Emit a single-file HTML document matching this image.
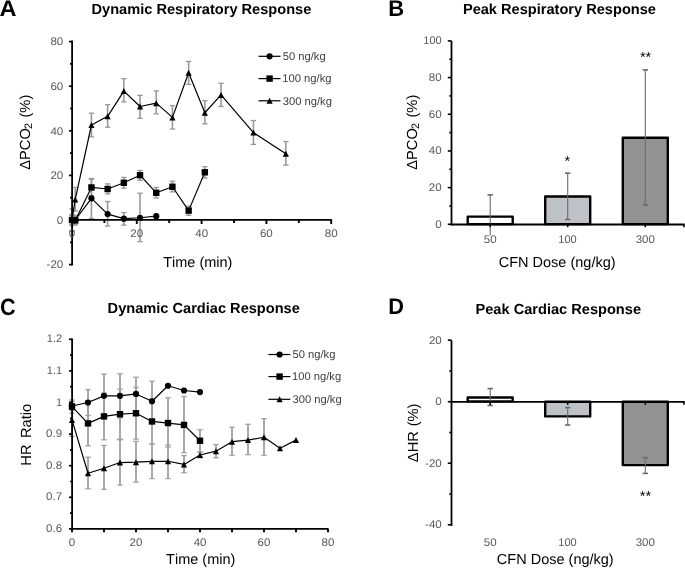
<!DOCTYPE html>
<html><head><meta charset="utf-8"><title>Figure</title>
<style>
html,body{margin:0;padding:0;background:#fff;}
body{width:685px;height:568px;overflow:hidden;}
svg{display:block;font-family:"Liberation Sans",sans-serif;font-kerning:none;text-rendering:geometricPrecision;}
</style></head><body>
<svg width="685" height="568" viewBox="0 0 685 568">
<defs><filter id="gs" filterUnits="userSpaceOnUse" x="0" y="0" width="685" height="568" color-interpolation-filters="sRGB"><feColorMatrix type="saturate" values="0"/></filter></defs>
<rect width="685" height="568" fill="#fff"/>
<line x1="72" y1="208.85" x2="72" y2="231.15" stroke="#999" stroke-width="1.6"/>
<line x1="69.3" y1="208.85" x2="74.7" y2="208.85" stroke="#999" stroke-width="1.3"/>
<line x1="69.3" y1="231.15" x2="74.7" y2="231.15" stroke="#999" stroke-width="1.3"/>
<line x1="75.24" y1="187.44" x2="75.24" y2="211.08" stroke="#999" stroke-width="1.6"/>
<line x1="72.54" y1="187.44" x2="77.94" y2="187.44" stroke="#999" stroke-width="1.3"/>
<line x1="72.54" y1="211.08" x2="77.94" y2="211.08" stroke="#999" stroke-width="1.3"/>
<line x1="91.44" y1="113.18" x2="91.44" y2="136.82" stroke="#999" stroke-width="1.6"/>
<line x1="88.74" y1="113.18" x2="94.14" y2="113.18" stroke="#999" stroke-width="1.3"/>
<line x1="88.74" y1="136.82" x2="94.14" y2="136.82" stroke="#999" stroke-width="1.3"/>
<line x1="107.64" y1="104.71" x2="107.64" y2="127.23" stroke="#999" stroke-width="1.6"/>
<line x1="104.94" y1="104.71" x2="110.34" y2="104.71" stroke="#999" stroke-width="1.3"/>
<line x1="104.94" y1="127.23" x2="110.34" y2="127.23" stroke="#999" stroke-width="1.3"/>
<line x1="123.84" y1="78.62" x2="123.84" y2="101.81" stroke="#999" stroke-width="1.6"/>
<line x1="121.14" y1="78.62" x2="126.54" y2="78.62" stroke="#999" stroke-width="1.3"/>
<line x1="121.14" y1="101.81" x2="126.54" y2="101.81" stroke="#999" stroke-width="1.3"/>
<line x1="140.04" y1="95.34" x2="140.04" y2="118.31" stroke="#999" stroke-width="1.6"/>
<line x1="137.34" y1="95.34" x2="142.74" y2="95.34" stroke="#999" stroke-width="1.3"/>
<line x1="137.34" y1="118.31" x2="142.74" y2="118.31" stroke="#999" stroke-width="1.3"/>
<line x1="156.24" y1="90.88" x2="156.24" y2="113.85" stroke="#999" stroke-width="1.6"/>
<line x1="153.54" y1="90.88" x2="158.94" y2="90.88" stroke="#999" stroke-width="1.3"/>
<line x1="153.54" y1="113.85" x2="158.94" y2="113.85" stroke="#999" stroke-width="1.3"/>
<line x1="172.44" y1="105.6" x2="172.44" y2="129.02" stroke="#999" stroke-width="1.6"/>
<line x1="169.74" y1="105.6" x2="175.14" y2="105.6" stroke="#999" stroke-width="1.3"/>
<line x1="169.74" y1="129.02" x2="175.14" y2="129.02" stroke="#999" stroke-width="1.3"/>
<line x1="188.64" y1="61.45" x2="188.64" y2="84.42" stroke="#999" stroke-width="1.6"/>
<line x1="185.94" y1="61.45" x2="191.34" y2="61.45" stroke="#999" stroke-width="1.3"/>
<line x1="185.94" y1="84.42" x2="191.34" y2="84.42" stroke="#999" stroke-width="1.3"/>
<line x1="204.84" y1="100.7" x2="204.84" y2="123.89" stroke="#999" stroke-width="1.6"/>
<line x1="202.14" y1="100.7" x2="207.54" y2="100.7" stroke="#999" stroke-width="1.3"/>
<line x1="202.14" y1="123.89" x2="207.54" y2="123.89" stroke="#999" stroke-width="1.3"/>
<line x1="221.04" y1="83.3" x2="221.04" y2="106.49" stroke="#999" stroke-width="1.6"/>
<line x1="218.34" y1="83.3" x2="223.74" y2="83.3" stroke="#999" stroke-width="1.3"/>
<line x1="218.34" y1="106.49" x2="223.74" y2="106.49" stroke="#999" stroke-width="1.3"/>
<line x1="253.44" y1="120.54" x2="253.44" y2="144.4" stroke="#999" stroke-width="1.6"/>
<line x1="250.74" y1="120.54" x2="256.14" y2="120.54" stroke="#999" stroke-width="1.3"/>
<line x1="250.74" y1="144.4" x2="256.14" y2="144.4" stroke="#999" stroke-width="1.3"/>
<line x1="285.84" y1="141.5" x2="285.84" y2="165.14" stroke="#999" stroke-width="1.6"/>
<line x1="283.14" y1="141.5" x2="288.54" y2="141.5" stroke="#999" stroke-width="1.3"/>
<line x1="283.14" y1="165.14" x2="288.54" y2="165.14" stroke="#999" stroke-width="1.3"/>
<line x1="72" y1="214.43" x2="72" y2="225.57" stroke="#999" stroke-width="1.6"/>
<line x1="69.3" y1="214.43" x2="74.7" y2="214.43" stroke="#999" stroke-width="1.3"/>
<line x1="69.3" y1="225.57" x2="74.7" y2="225.57" stroke="#999" stroke-width="1.3"/>
<line x1="75.24" y1="215.99" x2="75.24" y2="224.91" stroke="#999" stroke-width="1.6"/>
<line x1="72.54" y1="215.99" x2="77.94" y2="215.99" stroke="#999" stroke-width="1.3"/>
<line x1="72.54" y1="224.91" x2="77.94" y2="224.91" stroke="#999" stroke-width="1.3"/>
<line x1="91.44" y1="179.19" x2="91.44" y2="195.47" stroke="#999" stroke-width="1.6"/>
<line x1="88.74" y1="179.19" x2="94.14" y2="179.19" stroke="#999" stroke-width="1.3"/>
<line x1="88.74" y1="195.47" x2="94.14" y2="195.47" stroke="#999" stroke-width="1.3"/>
<line x1="107.64" y1="183.87" x2="107.64" y2="193.91" stroke="#999" stroke-width="1.6"/>
<line x1="104.94" y1="183.87" x2="110.34" y2="183.87" stroke="#999" stroke-width="1.3"/>
<line x1="104.94" y1="193.91" x2="110.34" y2="193.91" stroke="#999" stroke-width="1.3"/>
<line x1="123.84" y1="177.41" x2="123.84" y2="188.11" stroke="#999" stroke-width="1.6"/>
<line x1="121.14" y1="177.41" x2="126.54" y2="177.41" stroke="#999" stroke-width="1.3"/>
<line x1="121.14" y1="188.11" x2="126.54" y2="188.11" stroke="#999" stroke-width="1.3"/>
<line x1="140.04" y1="170.49" x2="140.04" y2="180.31" stroke="#999" stroke-width="1.6"/>
<line x1="137.34" y1="170.49" x2="142.74" y2="170.49" stroke="#999" stroke-width="1.3"/>
<line x1="137.34" y1="180.31" x2="142.74" y2="180.31" stroke="#999" stroke-width="1.3"/>
<line x1="156.24" y1="187.44" x2="156.24" y2="197.92" stroke="#999" stroke-width="1.6"/>
<line x1="153.54" y1="187.44" x2="158.94" y2="187.44" stroke="#999" stroke-width="1.3"/>
<line x1="153.54" y1="197.92" x2="158.94" y2="197.92" stroke="#999" stroke-width="1.3"/>
<line x1="172.44" y1="181.2" x2="172.44" y2="191.9" stroke="#999" stroke-width="1.6"/>
<line x1="169.74" y1="181.2" x2="175.14" y2="181.2" stroke="#999" stroke-width="1.3"/>
<line x1="169.74" y1="191.9" x2="175.14" y2="191.9" stroke="#999" stroke-width="1.3"/>
<line x1="188.64" y1="206.17" x2="188.64" y2="215.32" stroke="#999" stroke-width="1.6"/>
<line x1="185.94" y1="206.17" x2="191.34" y2="206.17" stroke="#999" stroke-width="1.3"/>
<line x1="185.94" y1="215.32" x2="191.34" y2="215.32" stroke="#999" stroke-width="1.3"/>
<line x1="204.84" y1="166.7" x2="204.84" y2="178.08" stroke="#999" stroke-width="1.6"/>
<line x1="202.14" y1="166.7" x2="207.54" y2="166.7" stroke="#999" stroke-width="1.3"/>
<line x1="202.14" y1="178.08" x2="207.54" y2="178.08" stroke="#999" stroke-width="1.3"/>
<line x1="72" y1="215.54" x2="72" y2="224.46" stroke="#999" stroke-width="1.6"/>
<line x1="69.3" y1="215.54" x2="74.7" y2="215.54" stroke="#999" stroke-width="1.3"/>
<line x1="69.3" y1="224.46" x2="74.7" y2="224.46" stroke="#999" stroke-width="1.3"/>
<line x1="75.24" y1="215.54" x2="75.24" y2="224.46" stroke="#999" stroke-width="1.6"/>
<line x1="72.54" y1="215.54" x2="77.94" y2="215.54" stroke="#999" stroke-width="1.3"/>
<line x1="72.54" y1="224.46" x2="77.94" y2="224.46" stroke="#999" stroke-width="1.3"/>
<line x1="91.44" y1="178.52" x2="91.44" y2="218.44" stroke="#999" stroke-width="1.6"/>
<line x1="88.74" y1="178.52" x2="94.14" y2="178.52" stroke="#999" stroke-width="1.3"/>
<line x1="88.74" y1="218.44" x2="94.14" y2="218.44" stroke="#999" stroke-width="1.3"/>
<line x1="107.64" y1="201.49" x2="107.64" y2="226.02" stroke="#999" stroke-width="1.6"/>
<line x1="104.94" y1="201.49" x2="110.34" y2="201.49" stroke="#999" stroke-width="1.3"/>
<line x1="104.94" y1="226.02" x2="110.34" y2="226.02" stroke="#999" stroke-width="1.3"/>
<line x1="123.84" y1="212.64" x2="123.84" y2="225.13" stroke="#999" stroke-width="1.6"/>
<line x1="121.14" y1="212.64" x2="126.54" y2="212.64" stroke="#999" stroke-width="1.3"/>
<line x1="121.14" y1="225.13" x2="126.54" y2="225.13" stroke="#999" stroke-width="1.3"/>
<line x1="140.04" y1="193.24" x2="140.04" y2="241.63" stroke="#999" stroke-width="1.6"/>
<line x1="137.34" y1="193.24" x2="142.74" y2="193.24" stroke="#999" stroke-width="1.3"/>
<line x1="137.34" y1="241.63" x2="142.74" y2="241.63" stroke="#999" stroke-width="1.3"/>
<line x1="72.1" y1="40.6" x2="72.1" y2="265.6" stroke="#000" stroke-width="1.8"/>
<line x1="71.2" y1="219.9" x2="331.8" y2="219.9" stroke="#000" stroke-width="1.8"/>
<line x1="69" y1="264.6" x2="72" y2="264.6" stroke="#000" stroke-width="1.7"/>
<line x1="70" y1="242.3" x2="72" y2="242.3" stroke="#000" stroke-width="1.7"/>
<line x1="69" y1="220" x2="72" y2="220" stroke="#000" stroke-width="1.7"/>
<line x1="70" y1="197.7" x2="72" y2="197.7" stroke="#000" stroke-width="1.7"/>
<line x1="69" y1="175.4" x2="72" y2="175.4" stroke="#000" stroke-width="1.7"/>
<line x1="70" y1="153.1" x2="72" y2="153.1" stroke="#000" stroke-width="1.7"/>
<line x1="69" y1="130.8" x2="72" y2="130.8" stroke="#000" stroke-width="1.7"/>
<line x1="70" y1="108.5" x2="72" y2="108.5" stroke="#000" stroke-width="1.7"/>
<line x1="69" y1="86.2" x2="72" y2="86.2" stroke="#000" stroke-width="1.7"/>
<line x1="70" y1="63.9" x2="72" y2="63.9" stroke="#000" stroke-width="1.7"/>
<line x1="69" y1="41.6" x2="72" y2="41.6" stroke="#000" stroke-width="1.7"/>
<line x1="72" y1="220" x2="72" y2="224" stroke="#000" stroke-width="1.9"/>
<line x1="104.4" y1="220" x2="104.4" y2="223" stroke="#000" stroke-width="1.9"/>
<line x1="136.8" y1="220" x2="136.8" y2="224" stroke="#000" stroke-width="1.9"/>
<line x1="169.2" y1="220" x2="169.2" y2="223" stroke="#000" stroke-width="1.9"/>
<line x1="201.6" y1="220" x2="201.6" y2="224" stroke="#000" stroke-width="1.9"/>
<line x1="234" y1="220" x2="234" y2="223" stroke="#000" stroke-width="1.9"/>
<line x1="266.4" y1="220" x2="266.4" y2="224" stroke="#000" stroke-width="1.9"/>
<line x1="298.8" y1="220" x2="298.8" y2="223" stroke="#000" stroke-width="1.9"/>
<line x1="331.2" y1="220" x2="331.2" y2="224" stroke="#000" stroke-width="1.9"/>
<polyline points="72,220 75.24,199.48 91.44,125 107.64,116.31 123.84,91.11 140.04,106.49 156.24,103.15 172.44,117.42 188.64,72.82 204.84,112.74 221.04,94.9 253.44,132.58 285.84,153.77" fill="none" stroke="#000" stroke-width="1.2" stroke-linejoin="round"/>
<polyline points="72,220 75.24,220.45 91.44,187.44 107.64,189 123.84,182.76 140.04,175.18 156.24,192.79 172.44,186.77 188.64,210.63 204.84,172.28" fill="none" stroke="#000" stroke-width="1.2" stroke-linejoin="round"/>
<polyline points="72,220 75.24,220 91.44,198.37 107.64,214.09 123.84,218.66 140.04,217.77 156.24,216.21" fill="none" stroke="#000" stroke-width="1.2" stroke-linejoin="round"/>
<polygon points="72,217 75.1,223 68.9,223" fill="#000"/>
<polygon points="75.24,196.48 78.34,202.48 72.14,202.48" fill="#000"/>
<polygon points="91.44,122 94.54,128 88.34,128" fill="#000"/>
<polygon points="107.64,113.31 110.74,119.31 104.54,119.31" fill="#000"/>
<polygon points="123.84,88.11 126.94,94.11 120.74,94.11" fill="#000"/>
<polygon points="140.04,103.49 143.14,109.49 136.94,109.49" fill="#000"/>
<polygon points="156.24,100.15 159.34,106.15 153.14,106.15" fill="#000"/>
<polygon points="172.44,114.42 175.54,120.42 169.34,120.42" fill="#000"/>
<polygon points="188.64,69.82 191.74,75.82 185.54,75.82" fill="#000"/>
<polygon points="204.84,109.74 207.94,115.74 201.74,115.74" fill="#000"/>
<polygon points="221.04,91.9 224.14,97.9 217.94,97.9" fill="#000"/>
<polygon points="253.44,129.58 256.54,135.58 250.34,135.58" fill="#000"/>
<polygon points="285.84,150.77 288.94,156.77 282.74,156.77" fill="#000"/>
<rect x="68.8" y="216.8" width="6.4" height="6.4" fill="#000"/>
<rect x="72.04" y="217.25" width="6.4" height="6.4" fill="#000"/>
<rect x="88.24" y="184.24" width="6.4" height="6.4" fill="#000"/>
<rect x="104.44" y="185.8" width="6.4" height="6.4" fill="#000"/>
<rect x="120.64" y="179.56" width="6.4" height="6.4" fill="#000"/>
<rect x="136.84" y="171.98" width="6.4" height="6.4" fill="#000"/>
<rect x="153.04" y="189.59" width="6.4" height="6.4" fill="#000"/>
<rect x="169.24" y="183.57" width="6.4" height="6.4" fill="#000"/>
<rect x="185.44" y="207.43" width="6.4" height="6.4" fill="#000"/>
<rect x="201.64" y="169.08" width="6.4" height="6.4" fill="#000"/>
<circle cx="72" cy="220" r="3.1" fill="#000"/>
<circle cx="75.24" cy="220" r="3.1" fill="#000"/>
<circle cx="91.44" cy="198.37" r="3.1" fill="#000"/>
<circle cx="107.64" cy="214.09" r="3.1" fill="#000"/>
<circle cx="123.84" cy="218.66" r="3.1" fill="#000"/>
<circle cx="140.04" cy="217.77" r="3.1" fill="#000"/>
<circle cx="156.24" cy="216.21" r="3.1" fill="#000"/>
<g filter="url(#gs)">
<text transform="translate(46.56,268.3) scale(1.05,1)" font-size="11" fill="#595959">-20</text>
<text transform="translate(56.83,223.7) scale(1.05,1)" font-size="11" fill="#595959">0</text>
<text transform="translate(50.4,179.1) scale(1.05,1)" font-size="11" fill="#595959">20</text>
<text transform="translate(50.4,134.5) scale(1.05,1)" font-size="11" fill="#595959">40</text>
<text transform="translate(50.4,89.9) scale(1.05,1)" font-size="11" fill="#595959">60</text>
<text transform="translate(50.4,45.3) scale(1.05,1)" font-size="11" fill="#595959">80</text>
<text transform="translate(68.79,237) scale(1.05,1)" font-size="11" fill="#595959">0</text>
<text transform="translate(130.31,237) scale(1.05,1)" font-size="11" fill="#595959">20</text>
<text transform="translate(195.27,237) scale(1.05,1)" font-size="11" fill="#595959">40</text>
<text transform="translate(259.91,237) scale(1.05,1)" font-size="11" fill="#595959">60</text>
<text transform="translate(324.75,237) scale(1.05,1)" font-size="11" fill="#595959">80</text>
</g>
<line x1="258.5" y1="56.3" x2="280.5" y2="56.3" stroke="#000" stroke-width="1.2"/>
<circle cx="269.6" cy="56.3" r="3.1" fill="#000"/>
<g filter="url(#gs)">
<text x="282.75" y="60" font-size="11.2" fill="#404040">50 ng/kg</text>
</g>
<line x1="258.5" y1="78.6" x2="280.5" y2="78.6" stroke="#000" stroke-width="1.2"/>
<rect x="266.4" y="75.4" width="6.4" height="6.4" fill="#000"/>
<g filter="url(#gs)">
<text x="282.35" y="82.3" font-size="11.2" fill="#404040">100 ng/kg</text>
</g>
<line x1="258.5" y1="100.8" x2="280.5" y2="100.8" stroke="#000" stroke-width="1.2"/>
<polygon points="269.6,97.8 272.7,103.8 266.5,103.8" fill="#000"/>
<g filter="url(#gs)">
<text x="282.77" y="104.5" font-size="11.2" fill="#404040">300 ng/kg</text>
<text transform="translate(-0.59,15.75) scale(1.04,1)" font-size="22.7" font-weight="bold" fill="#000">A</text>
<text x="91.52" y="14.4" font-size="14.6" font-weight="bold" fill="#000">Dynamic Respiratory Response</text>
<text x="163.17" y="267.1" font-size="14.5" fill="#000">Time (min)</text>
<text transform="translate(30.1,169.74) rotate(-90)" font-size="14.67" fill="#000">ΔPCO</text>
<text transform="translate(32.3,128.94) rotate(-90)" font-size="10.8" fill="#000">2</text>
<text transform="translate(30.1,117.51) rotate(-90)" font-size="14.67" fill="#000">(%)</text>
</g>
<rect x="467.7" y="216.6" width="45" height="7.5" fill="#fff" stroke="#000" stroke-width="2.4" stroke-linejoin="round"/>
<rect x="545.2" y="196.5" width="45" height="27.6" fill="#bec2c6" stroke="#000" stroke-width="2.4" stroke-linejoin="round"/>
<rect x="622.8" y="137.8" width="45" height="86.3" fill="#929292" stroke="#000" stroke-width="2.4" stroke-linejoin="round"/>
<line x1="490.2" y1="194.6" x2="490.2" y2="235.4" stroke="#6c6c6c" stroke-width="1.1"/>
<line x1="487.5" y1="194.9" x2="492.9" y2="194.9" stroke="#6c6c6c" stroke-width="1.6"/>
<line x1="567.7" y1="172.9" x2="567.7" y2="219.5" stroke="#6c6c6c" stroke-width="1.1"/>
<line x1="565" y1="173.2" x2="570.4" y2="173.2" stroke="#6c6c6c" stroke-width="1.6"/>
<line x1="565" y1="219.5" x2="570.4" y2="219.5" stroke="#6c6c6c" stroke-width="1.6"/>
<line x1="645.3" y1="69.6" x2="645.3" y2="205" stroke="#6c6c6c" stroke-width="1.1"/>
<line x1="642.6" y1="69.9" x2="648" y2="69.9" stroke="#6c6c6c" stroke-width="1.6"/>
<line x1="642.6" y1="205" x2="648" y2="205" stroke="#6c6c6c" stroke-width="1.6"/>
<line x1="451.5" y1="40.9" x2="451.5" y2="225.3" stroke="#000" stroke-width="1.8"/>
<line x1="450.6" y1="224.4" x2="684.6" y2="224.4" stroke="#000" stroke-width="2"/>
<line x1="447.8" y1="224.3" x2="451.5" y2="224.3" stroke="#000" stroke-width="1.6"/>
<line x1="449.3" y1="205.96" x2="451.5" y2="205.96" stroke="#000" stroke-width="1.6"/>
<line x1="447.8" y1="187.62" x2="451.5" y2="187.62" stroke="#000" stroke-width="1.6"/>
<line x1="449.3" y1="169.28" x2="451.5" y2="169.28" stroke="#000" stroke-width="1.6"/>
<line x1="447.8" y1="150.94" x2="451.5" y2="150.94" stroke="#000" stroke-width="1.6"/>
<line x1="449.3" y1="132.6" x2="451.5" y2="132.6" stroke="#000" stroke-width="1.6"/>
<line x1="447.8" y1="114.26" x2="451.5" y2="114.26" stroke="#000" stroke-width="1.6"/>
<line x1="449.3" y1="95.92" x2="451.5" y2="95.92" stroke="#000" stroke-width="1.6"/>
<line x1="447.8" y1="77.58" x2="451.5" y2="77.58" stroke="#000" stroke-width="1.6"/>
<line x1="449.3" y1="59.24" x2="451.5" y2="59.24" stroke="#000" stroke-width="1.6"/>
<line x1="447.8" y1="40.9" x2="451.5" y2="40.9" stroke="#000" stroke-width="1.6"/>
<line x1="490.2" y1="224.3" x2="490.2" y2="227.3" stroke="#000" stroke-width="1.6"/>
<line x1="567.7" y1="224.3" x2="567.7" y2="227.3" stroke="#000" stroke-width="1.6"/>
<line x1="645.3" y1="224.3" x2="645.3" y2="227.3" stroke="#000" stroke-width="1.6"/>
<line x1="684" y1="224.3" x2="684" y2="227.3" stroke="#000" stroke-width="1.6"/>
<g filter="url(#gs)">
<text transform="translate(435.23,227.6) scale(1.05,1)" font-size="11" fill="#595959">0</text>
<text transform="translate(428.8,190.92) scale(1.05,1)" font-size="11" fill="#595959">20</text>
<text transform="translate(428.8,154.24) scale(1.05,1)" font-size="11" fill="#595959">40</text>
<text transform="translate(428.8,117.56) scale(1.05,1)" font-size="11" fill="#595959">60</text>
<text transform="translate(428.8,80.88) scale(1.05,1)" font-size="11" fill="#595959">80</text>
<text x="423.28" y="44.2" font-size="11" fill="#595959">100</text>
<text transform="translate(483.77,242.9) scale(1.05,1)" font-size="11" fill="#595959">50</text>
<text x="558.32" y="242.9" font-size="11" fill="#595959">100</text>
<text transform="translate(635.67,242.9) scale(1.05,1)" font-size="11" fill="#595959">300</text>
<text x="564.48" y="165.6" font-size="14.5" fill="#000">*</text>
<text x="639.95" y="61.6" font-size="14.5" fill="#000">**</text>
<text transform="translate(388.22,15.9) scale(0.97,1)" font-size="22.7" font-weight="bold" fill="#000">B</text>
<text x="462.92" y="14.4" font-size="14.6" font-weight="bold" fill="#000">Peak Respiratory Response</text>
<text x="498.76" y="267.3" font-size="14.5" fill="#000">CFN Dose (ng/kg)</text>
<text transform="translate(417.1,169.74) rotate(-90)" font-size="14.67" fill="#000">ΔPCO</text>
<text transform="translate(419.2,128.94) rotate(-90)" font-size="10.8" fill="#000">2</text>
<text transform="translate(417.1,117.51) rotate(-90)" font-size="14.67" fill="#000">(%)</text>
</g>
<line x1="72" y1="403.45" x2="72" y2="436.31" stroke="#a0a0a0" stroke-width="1.8"/>
<line x1="69.3" y1="403.45" x2="74.7" y2="403.45" stroke="#a0a0a0" stroke-width="1.3"/>
<line x1="69.3" y1="436.31" x2="74.7" y2="436.31" stroke="#a0a0a0" stroke-width="1.3"/>
<line x1="88" y1="457.17" x2="88" y2="488.77" stroke="#a0a0a0" stroke-width="1.8"/>
<line x1="85.3" y1="457.17" x2="90.7" y2="457.17" stroke="#a0a0a0" stroke-width="1.3"/>
<line x1="85.3" y1="488.77" x2="90.7" y2="488.77" stroke="#a0a0a0" stroke-width="1.3"/>
<line x1="104" y1="445.48" x2="104" y2="489.4" stroke="#a0a0a0" stroke-width="1.8"/>
<line x1="101.3" y1="445.48" x2="106.7" y2="445.48" stroke="#a0a0a0" stroke-width="1.3"/>
<line x1="101.3" y1="489.4" x2="106.7" y2="489.4" stroke="#a0a0a0" stroke-width="1.3"/>
<line x1="120" y1="439.79" x2="120" y2="484.98" stroke="#a0a0a0" stroke-width="1.8"/>
<line x1="117.3" y1="439.79" x2="122.7" y2="439.79" stroke="#a0a0a0" stroke-width="1.3"/>
<line x1="117.3" y1="484.98" x2="122.7" y2="484.98" stroke="#a0a0a0" stroke-width="1.3"/>
<line x1="136" y1="441.37" x2="136" y2="482.13" stroke="#a0a0a0" stroke-width="1.8"/>
<line x1="133.3" y1="441.37" x2="138.7" y2="441.37" stroke="#a0a0a0" stroke-width="1.3"/>
<line x1="133.3" y1="482.13" x2="138.7" y2="482.13" stroke="#a0a0a0" stroke-width="1.3"/>
<line x1="152" y1="443.9" x2="152" y2="478.66" stroke="#a0a0a0" stroke-width="1.8"/>
<line x1="149.3" y1="443.9" x2="154.7" y2="443.9" stroke="#a0a0a0" stroke-width="1.3"/>
<line x1="149.3" y1="478.66" x2="154.7" y2="478.66" stroke="#a0a0a0" stroke-width="1.3"/>
<line x1="168" y1="444.84" x2="168" y2="478.66" stroke="#a0a0a0" stroke-width="1.8"/>
<line x1="165.3" y1="444.84" x2="170.7" y2="444.84" stroke="#a0a0a0" stroke-width="1.3"/>
<line x1="165.3" y1="478.66" x2="170.7" y2="478.66" stroke="#a0a0a0" stroke-width="1.3"/>
<line x1="184" y1="455.59" x2="184" y2="472.65" stroke="#a0a0a0" stroke-width="1.8"/>
<line x1="181.3" y1="455.59" x2="186.7" y2="455.59" stroke="#a0a0a0" stroke-width="1.3"/>
<line x1="181.3" y1="472.65" x2="186.7" y2="472.65" stroke="#a0a0a0" stroke-width="1.3"/>
<line x1="200" y1="452.11" x2="200" y2="457.8" stroke="#a0a0a0" stroke-width="1.8"/>
<line x1="197.3" y1="452.11" x2="202.7" y2="452.11" stroke="#a0a0a0" stroke-width="1.3"/>
<line x1="197.3" y1="457.8" x2="202.7" y2="457.8" stroke="#a0a0a0" stroke-width="1.3"/>
<line x1="216" y1="444.53" x2="216" y2="457.8" stroke="#a0a0a0" stroke-width="1.8"/>
<line x1="213.3" y1="444.53" x2="218.7" y2="444.53" stroke="#a0a0a0" stroke-width="1.3"/>
<line x1="213.3" y1="457.8" x2="218.7" y2="457.8" stroke="#a0a0a0" stroke-width="1.3"/>
<line x1="232" y1="427.15" x2="232" y2="455.27" stroke="#a0a0a0" stroke-width="1.8"/>
<line x1="229.3" y1="427.15" x2="234.7" y2="427.15" stroke="#a0a0a0" stroke-width="1.3"/>
<line x1="229.3" y1="455.27" x2="234.7" y2="455.27" stroke="#a0a0a0" stroke-width="1.3"/>
<line x1="248" y1="424.3" x2="248" y2="454.64" stroke="#a0a0a0" stroke-width="1.8"/>
<line x1="245.3" y1="424.3" x2="250.7" y2="424.3" stroke="#a0a0a0" stroke-width="1.3"/>
<line x1="245.3" y1="454.64" x2="250.7" y2="454.64" stroke="#a0a0a0" stroke-width="1.3"/>
<line x1="264" y1="418.62" x2="264" y2="455.27" stroke="#a0a0a0" stroke-width="1.8"/>
<line x1="261.3" y1="418.62" x2="266.7" y2="418.62" stroke="#a0a0a0" stroke-width="1.3"/>
<line x1="261.3" y1="455.27" x2="266.7" y2="455.27" stroke="#a0a0a0" stroke-width="1.3"/>
<line x1="72" y1="399.97" x2="72" y2="413.24" stroke="#a0a0a0" stroke-width="1.8"/>
<line x1="69.3" y1="399.97" x2="74.7" y2="399.97" stroke="#a0a0a0" stroke-width="1.3"/>
<line x1="69.3" y1="413.24" x2="74.7" y2="413.24" stroke="#a0a0a0" stroke-width="1.3"/>
<line x1="88" y1="400.92" x2="88" y2="445.79" stroke="#a0a0a0" stroke-width="1.8"/>
<line x1="85.3" y1="400.92" x2="90.7" y2="400.92" stroke="#a0a0a0" stroke-width="1.3"/>
<line x1="85.3" y1="445.79" x2="90.7" y2="445.79" stroke="#a0a0a0" stroke-width="1.3"/>
<line x1="104" y1="393.02" x2="104" y2="439.79" stroke="#a0a0a0" stroke-width="1.8"/>
<line x1="101.3" y1="393.02" x2="106.7" y2="393.02" stroke="#a0a0a0" stroke-width="1.3"/>
<line x1="101.3" y1="439.79" x2="106.7" y2="439.79" stroke="#a0a0a0" stroke-width="1.3"/>
<line x1="120" y1="389.23" x2="120" y2="439.16" stroke="#a0a0a0" stroke-width="1.8"/>
<line x1="117.3" y1="389.23" x2="122.7" y2="389.23" stroke="#a0a0a0" stroke-width="1.3"/>
<line x1="117.3" y1="439.16" x2="122.7" y2="439.16" stroke="#a0a0a0" stroke-width="1.3"/>
<line x1="136" y1="387.33" x2="136" y2="439.16" stroke="#a0a0a0" stroke-width="1.8"/>
<line x1="133.3" y1="387.33" x2="138.7" y2="387.33" stroke="#a0a0a0" stroke-width="1.3"/>
<line x1="133.3" y1="439.16" x2="138.7" y2="439.16" stroke="#a0a0a0" stroke-width="1.3"/>
<line x1="152" y1="399.02" x2="152" y2="443.9" stroke="#a0a0a0" stroke-width="1.8"/>
<line x1="149.3" y1="399.02" x2="154.7" y2="399.02" stroke="#a0a0a0" stroke-width="1.3"/>
<line x1="149.3" y1="443.9" x2="154.7" y2="443.9" stroke="#a0a0a0" stroke-width="1.3"/>
<line x1="168" y1="397.76" x2="168" y2="447.06" stroke="#a0a0a0" stroke-width="1.8"/>
<line x1="165.3" y1="397.76" x2="170.7" y2="397.76" stroke="#a0a0a0" stroke-width="1.3"/>
<line x1="165.3" y1="447.06" x2="170.7" y2="447.06" stroke="#a0a0a0" stroke-width="1.3"/>
<line x1="184" y1="396.5" x2="184" y2="452.74" stroke="#a0a0a0" stroke-width="1.8"/>
<line x1="181.3" y1="396.5" x2="186.7" y2="396.5" stroke="#a0a0a0" stroke-width="1.3"/>
<line x1="181.3" y1="452.74" x2="186.7" y2="452.74" stroke="#a0a0a0" stroke-width="1.3"/>
<line x1="200" y1="429.68" x2="200" y2="452.11" stroke="#a0a0a0" stroke-width="1.8"/>
<line x1="197.3" y1="429.68" x2="202.7" y2="429.68" stroke="#a0a0a0" stroke-width="1.3"/>
<line x1="197.3" y1="452.11" x2="202.7" y2="452.11" stroke="#a0a0a0" stroke-width="1.3"/>
<line x1="72" y1="401.55" x2="72" y2="410.4" stroke="#a0a0a0" stroke-width="1.8"/>
<line x1="69.3" y1="401.55" x2="74.7" y2="401.55" stroke="#a0a0a0" stroke-width="1.3"/>
<line x1="69.3" y1="410.4" x2="74.7" y2="410.4" stroke="#a0a0a0" stroke-width="1.3"/>
<line x1="88" y1="389.54" x2="88" y2="415.46" stroke="#a0a0a0" stroke-width="1.8"/>
<line x1="85.3" y1="389.54" x2="90.7" y2="389.54" stroke="#a0a0a0" stroke-width="1.3"/>
<line x1="85.3" y1="415.46" x2="90.7" y2="415.46" stroke="#a0a0a0" stroke-width="1.3"/>
<line x1="104" y1="374.06" x2="104" y2="417.67" stroke="#a0a0a0" stroke-width="1.8"/>
<line x1="101.3" y1="374.06" x2="106.7" y2="374.06" stroke="#a0a0a0" stroke-width="1.3"/>
<line x1="101.3" y1="417.67" x2="106.7" y2="417.67" stroke="#a0a0a0" stroke-width="1.3"/>
<line x1="120" y1="373.74" x2="120" y2="417.98" stroke="#a0a0a0" stroke-width="1.8"/>
<line x1="117.3" y1="373.74" x2="122.7" y2="373.74" stroke="#a0a0a0" stroke-width="1.3"/>
<line x1="117.3" y1="417.98" x2="122.7" y2="417.98" stroke="#a0a0a0" stroke-width="1.3"/>
<line x1="136" y1="377.22" x2="136" y2="410.72" stroke="#a0a0a0" stroke-width="1.8"/>
<line x1="133.3" y1="377.22" x2="138.7" y2="377.22" stroke="#a0a0a0" stroke-width="1.3"/>
<line x1="133.3" y1="410.72" x2="138.7" y2="410.72" stroke="#a0a0a0" stroke-width="1.3"/>
<line x1="152" y1="381.33" x2="152" y2="421.14" stroke="#a0a0a0" stroke-width="1.8"/>
<line x1="149.3" y1="381.33" x2="154.7" y2="381.33" stroke="#a0a0a0" stroke-width="1.3"/>
<line x1="149.3" y1="421.14" x2="154.7" y2="421.14" stroke="#a0a0a0" stroke-width="1.3"/>
<line x1="72.1" y1="338.4" x2="72.1" y2="529.8" stroke="#000" stroke-width="1.8"/>
<line x1="71.2" y1="528.9" x2="328.5" y2="528.9" stroke="#000" stroke-width="1.8"/>
<line x1="69" y1="339.3" x2="72" y2="339.3" stroke="#000" stroke-width="1.7"/>
<line x1="70" y1="355.1" x2="72" y2="355.1" stroke="#000" stroke-width="1.7"/>
<line x1="69" y1="370.9" x2="72" y2="370.9" stroke="#000" stroke-width="1.7"/>
<line x1="70" y1="386.7" x2="72" y2="386.7" stroke="#000" stroke-width="1.7"/>
<line x1="69" y1="402.5" x2="72" y2="402.5" stroke="#000" stroke-width="1.7"/>
<line x1="70" y1="418.3" x2="72" y2="418.3" stroke="#000" stroke-width="1.7"/>
<line x1="69" y1="434.1" x2="72" y2="434.1" stroke="#000" stroke-width="1.7"/>
<line x1="70" y1="449.9" x2="72" y2="449.9" stroke="#000" stroke-width="1.7"/>
<line x1="69" y1="465.7" x2="72" y2="465.7" stroke="#000" stroke-width="1.7"/>
<line x1="70" y1="481.5" x2="72" y2="481.5" stroke="#000" stroke-width="1.7"/>
<line x1="69" y1="497.3" x2="72" y2="497.3" stroke="#000" stroke-width="1.7"/>
<line x1="70" y1="513.1" x2="72" y2="513.1" stroke="#000" stroke-width="1.7"/>
<line x1="69" y1="528.9" x2="72" y2="528.9" stroke="#000" stroke-width="1.7"/>
<line x1="72" y1="528.9" x2="72" y2="532.3" stroke="#000" stroke-width="1.9"/>
<line x1="104" y1="528.9" x2="104" y2="532.3" stroke="#000" stroke-width="1.9"/>
<line x1="136" y1="528.9" x2="136" y2="532.3" stroke="#000" stroke-width="1.9"/>
<line x1="168" y1="528.9" x2="168" y2="532.3" stroke="#000" stroke-width="1.9"/>
<line x1="200" y1="528.9" x2="200" y2="532.3" stroke="#000" stroke-width="1.9"/>
<line x1="232" y1="528.9" x2="232" y2="532.3" stroke="#000" stroke-width="1.9"/>
<line x1="264" y1="528.9" x2="264" y2="532.3" stroke="#000" stroke-width="1.9"/>
<line x1="296" y1="528.9" x2="296" y2="532.3" stroke="#000" stroke-width="1.9"/>
<line x1="328" y1="528.9" x2="328" y2="532.3" stroke="#000" stroke-width="1.9"/>
<polyline points="72,419.88 88,473.28 104,468.23 120,462.54 136,462.22 152,461.28 168,461.28 184,464.44 200,454.96 216,451.16 232,441.68 248,440.1 264,437.26 280,448.32 296,440.1" fill="none" stroke="#000" stroke-width="1.2" stroke-linejoin="round"/>
<polyline points="72,406.61 88,423.36 104,416.4 120,414.19 136,413.24 152,421.46 168,423.04 184,424.94 200,440.74" fill="none" stroke="#000" stroke-width="1.2" stroke-linejoin="round"/>
<polyline points="72,405.98 88,402.5 104,395.86 120,395.86 136,393.97 152,401.24 168,385.75 184,390.49 200,392.07" fill="none" stroke="#000" stroke-width="1.2" stroke-linejoin="round"/>
<polygon points="72,416.88 75.1,422.88 68.9,422.88" fill="#000"/>
<polygon points="88,470.28 91.1,476.28 84.9,476.28" fill="#000"/>
<polygon points="104,465.23 107.1,471.23 100.9,471.23" fill="#000"/>
<polygon points="120,459.54 123.1,465.54 116.9,465.54" fill="#000"/>
<polygon points="136,459.22 139.1,465.22 132.9,465.22" fill="#000"/>
<polygon points="152,458.28 155.1,464.28 148.9,464.28" fill="#000"/>
<polygon points="168,458.28 171.1,464.28 164.9,464.28" fill="#000"/>
<polygon points="184,461.44 187.1,467.44 180.9,467.44" fill="#000"/>
<polygon points="200,451.96 203.1,457.96 196.9,457.96" fill="#000"/>
<polygon points="216,448.16 219.1,454.16 212.9,454.16" fill="#000"/>
<polygon points="232,438.68 235.1,444.68 228.9,444.68" fill="#000"/>
<polygon points="248,437.1 251.1,443.1 244.9,443.1" fill="#000"/>
<polygon points="264,434.26 267.1,440.26 260.9,440.26" fill="#000"/>
<polygon points="280,445.32 283.1,451.32 276.9,451.32" fill="#000"/>
<polygon points="296,437.1 299.1,443.1 292.9,443.1" fill="#000"/>
<rect x="68.8" y="403.41" width="6.4" height="6.4" fill="#000"/>
<rect x="84.8" y="420.16" width="6.4" height="6.4" fill="#000"/>
<rect x="100.8" y="413.2" width="6.4" height="6.4" fill="#000"/>
<rect x="116.8" y="410.99" width="6.4" height="6.4" fill="#000"/>
<rect x="132.8" y="410.04" width="6.4" height="6.4" fill="#000"/>
<rect x="148.8" y="418.26" width="6.4" height="6.4" fill="#000"/>
<rect x="164.8" y="419.84" width="6.4" height="6.4" fill="#000"/>
<rect x="180.8" y="421.74" width="6.4" height="6.4" fill="#000"/>
<rect x="196.8" y="437.54" width="6.4" height="6.4" fill="#000"/>
<circle cx="72" cy="405.98" r="3.1" fill="#000"/>
<circle cx="88" cy="402.5" r="3.1" fill="#000"/>
<circle cx="104" cy="395.86" r="3.1" fill="#000"/>
<circle cx="120" cy="395.86" r="3.1" fill="#000"/>
<circle cx="136" cy="393.97" r="3.1" fill="#000"/>
<circle cx="152" cy="401.24" r="3.1" fill="#000"/>
<circle cx="168" cy="385.75" r="3.1" fill="#000"/>
<circle cx="184" cy="390.49" r="3.1" fill="#000"/>
<circle cx="200" cy="392.07" r="3.1" fill="#000"/>
<g filter="url(#gs)">
<text x="46.86" y="342.4" font-size="11" fill="#595959">1.2</text>
<text x="46.85" y="374" font-size="11" fill="#595959">1.1</text>
<text x="56.02" y="405.6" font-size="11" fill="#595959">1</text>
<text transform="translate(46.09,437.2) scale(1.05,1)" font-size="11" fill="#595959">0.9</text>
<text transform="translate(46.05,468.8) scale(1.05,1)" font-size="11" fill="#595959">0.8</text>
<text transform="translate(46.12,500.4) scale(1.05,1)" font-size="11" fill="#595959">0.7</text>
<text transform="translate(46.05,532) scale(1.05,1)" font-size="11" fill="#595959">0.6</text>
<text transform="translate(68.79,545.9) scale(1.05,1)" font-size="11" fill="#595959">0</text>
<text transform="translate(129.51,545.9) scale(1.05,1)" font-size="11" fill="#595959">20</text>
<text transform="translate(193.67,545.9) scale(1.05,1)" font-size="11" fill="#595959">40</text>
<text transform="translate(257.51,545.9) scale(1.05,1)" font-size="11" fill="#595959">60</text>
<text transform="translate(321.55,545.9) scale(1.05,1)" font-size="11" fill="#595959">80</text>
</g>
<line x1="268.4" y1="354.5" x2="290.4" y2="354.5" stroke="#000" stroke-width="1.2"/>
<circle cx="279.6" cy="354.5" r="3.1" fill="#000"/>
<g filter="url(#gs)">
<text x="292.45" y="358.1" font-size="11.2" fill="#404040">50 ng/kg</text>
</g>
<line x1="268.4" y1="376.6" x2="290.4" y2="376.6" stroke="#000" stroke-width="1.2"/>
<rect x="276.4" y="373.4" width="6.4" height="6.4" fill="#000"/>
<g filter="url(#gs)">
<text x="292.05" y="380.2" font-size="11.2" fill="#404040">100 ng/kg</text>
</g>
<line x1="268.4" y1="399.3" x2="290.4" y2="399.3" stroke="#000" stroke-width="1.2"/>
<polygon points="279.6,396.3 282.7,402.3 276.5,402.3" fill="#000"/>
<g filter="url(#gs)">
<text x="292.47" y="402.9" font-size="11.2" fill="#404040">300 ng/kg</text>
<text transform="translate(0.01,315.3) scale(0.92,1)" font-size="23.5" font-weight="bold" fill="#000">C</text>
<text x="107.62" y="313" font-size="14.6" font-weight="bold" fill="#000">Dynamic Cardiac Response</text>
<text x="166.07" y="564.4" font-size="14.5" fill="#000">Time (min)</text>
<text transform="translate(31,465.7) rotate(-90)" font-size="14.67" fill="#000">HR</text>
<text transform="translate(31,438) rotate(-90)" font-size="14.67" fill="#000">Ratio</text>
</g>
<rect x="467.7" y="397.5" width="45" height="3.9" fill="#fff" stroke="#000" stroke-width="2.4" stroke-linejoin="round"/>
<rect x="545.2" y="401.8" width="45" height="14.6" fill="#bec2c6" stroke="#000" stroke-width="2.4" stroke-linejoin="round"/>
<rect x="622.8" y="401.8" width="45" height="63.3" fill="#929292" stroke="#000" stroke-width="2.4" stroke-linejoin="round"/>
<line x1="490.2" y1="388.6" x2="490.2" y2="405.5" stroke="#6c6c6c" stroke-width="1.1"/>
<line x1="487.5" y1="388.6" x2="492.9" y2="388.6" stroke="#6c6c6c" stroke-width="1.6"/>
<line x1="487.5" y1="405.5" x2="492.9" y2="405.5" stroke="#6c6c6c" stroke-width="1.6"/>
<line x1="567.7" y1="407.6" x2="567.7" y2="425" stroke="#6c6c6c" stroke-width="1.1"/>
<line x1="565" y1="407.6" x2="570.4" y2="407.6" stroke="#6c6c6c" stroke-width="1.6"/>
<line x1="565" y1="425" x2="570.4" y2="425" stroke="#6c6c6c" stroke-width="1.6"/>
<line x1="645.3" y1="457.6" x2="645.3" y2="473.4" stroke="#6c6c6c" stroke-width="1.1"/>
<line x1="642.6" y1="457.6" x2="648" y2="457.6" stroke="#6c6c6c" stroke-width="1.6"/>
<line x1="642.6" y1="473.4" x2="648" y2="473.4" stroke="#6c6c6c" stroke-width="1.6"/>
<line x1="451.5" y1="340.4" x2="451.5" y2="525.9" stroke="#000" stroke-width="1.8"/>
<line x1="450.6" y1="401.8" x2="684.6" y2="401.8" stroke="#000" stroke-width="1.7"/>
<line x1="447.8" y1="524.78" x2="451.5" y2="524.78" stroke="#000" stroke-width="1.6"/>
<line x1="449.3" y1="494.01" x2="451.5" y2="494.01" stroke="#000" stroke-width="1.6"/>
<line x1="447.8" y1="463.24" x2="451.5" y2="463.24" stroke="#000" stroke-width="1.6"/>
<line x1="449.3" y1="432.47" x2="451.5" y2="432.47" stroke="#000" stroke-width="1.6"/>
<line x1="447.8" y1="401.7" x2="451.5" y2="401.7" stroke="#000" stroke-width="1.6"/>
<line x1="449.3" y1="370.93" x2="451.5" y2="370.93" stroke="#000" stroke-width="1.6"/>
<line x1="447.8" y1="340.16" x2="451.5" y2="340.16" stroke="#000" stroke-width="1.6"/>
<line x1="490.2" y1="401.7" x2="490.2" y2="404.8" stroke="#000" stroke-width="1.6"/>
<line x1="567.7" y1="401.7" x2="567.7" y2="404.8" stroke="#000" stroke-width="1.6"/>
<line x1="645.3" y1="401.7" x2="645.3" y2="404.8" stroke="#000" stroke-width="1.6"/>
<line x1="684" y1="401.7" x2="684" y2="404.8" stroke="#000" stroke-width="1.6"/>
<g filter="url(#gs)">
<text transform="translate(425.06,528.28) scale(1.05,1)" font-size="11" fill="#595959">-40</text>
<text transform="translate(425.06,466.74) scale(1.05,1)" font-size="11" fill="#595959">-20</text>
<text transform="translate(435.33,405.2) scale(1.05,1)" font-size="11" fill="#595959">0</text>
<text transform="translate(428.9,343.66) scale(1.05,1)" font-size="11" fill="#595959">20</text>
<text transform="translate(483.77,546) scale(1.05,1)" font-size="11" fill="#595959">50</text>
<text x="558.32" y="546" font-size="11" fill="#595959">100</text>
<text transform="translate(635.67,546) scale(1.05,1)" font-size="11" fill="#595959">300</text>
<text x="639.85" y="500.7" font-size="14.5" fill="#000">**</text>
<text transform="translate(388.34,313.75) scale(0.96,1)" font-size="22.7" font-weight="bold" fill="#000">D</text>
<text x="475.52" y="314" font-size="14.6" font-weight="bold" fill="#000">Peak Cardiac Response</text>
<text x="496.86" y="563.7" font-size="14.5" fill="#000">CFN Dose (ng/kg)</text>
<text transform="translate(417.5,462.14) rotate(-90)" font-size="14.67" fill="#000">ΔHR</text>
<text transform="translate(417.5,426.31) rotate(-90)" font-size="14.67" fill="#000">(%)</text>
</g>
</svg>
</body></html>
